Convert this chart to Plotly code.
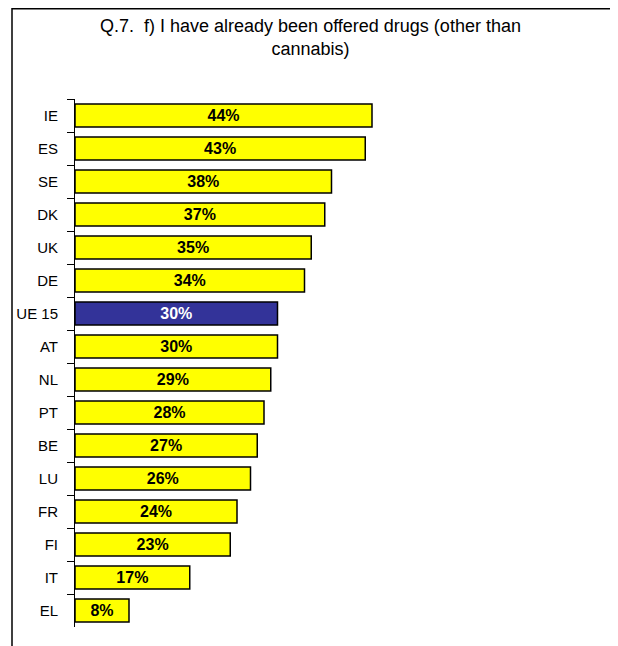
import plotly.graph_objects as go

countries = ["IE", "ES", "SE", "DK", "UK", "DE", "UE 15", "AT", "NL", "PT", "BE", "LU", "FR", "FI", "IT", "EL"]
values = [44, 43, 38, 37, 35, 34, 30, 30, 29, 28, 27, 26, 24, 23, 17, 8]
highlight = "UE 15"

colors = ["#333399" if c == highlight else "#FFFF00" for c in countries]
text_colors = ["#FFFFFF" if c == highlight else "#000000" for c in countries]
labels = [f"{v}%" for v in values]

W, H = 618, 646
L, R, T, B = 67, 11, 91, 27
pw, ph = W - L - R, H - T - B

fig = go.Figure(go.Bar(
    y=countries, x=values, orientation="h",
    marker=dict(color=colors, line=dict(color="#000000", width=1.5)),
    width=0.7,
    text=labels, textposition="inside", insidetextanchor="middle",
    textfont=dict(family="Arial, Liberation Sans, sans-serif", size=16, color=text_colors, weight="bold"),
    textangle=0,
    hoverinfo="skip",
))

def px_x(x):
    return (x - L) / pw

def px_y(y):
    return (H - B - y) / ph

fig.add_shape(type="path", xref="paper", yref="paper",
              path=f"M {px_x(4)} {px_y(660)} L {px_x(4)} {px_y(0.8)} L {px_x(606)} {px_y(0.8)} L {px_x(606)} {px_y(660)}",
              line=dict(color="#000000", width=1.5))

fig.add_annotation(text="Q.7.  f) I have already been offered drugs (other than<br>cannabis)",
                   xref="paper", yref="paper", x=px_x(302), y=px_y(6), xanchor="center", yanchor="top",
                   showarrow=False, align="center",
                   font=dict(family="Arial, Liberation Sans, sans-serif", size=18, color="#000000"))

fig.update_layout(
    width=W, height=H,
    margin=dict(l=L, r=R, t=T, b=B, autoexpand=False),
    paper_bgcolor="white", plot_bgcolor="white",
    showlegend=False,
    xaxis=dict(range=[0, 80], visible=False, fixedrange=True, automargin=False),
    yaxis=dict(categoryorder="array", categoryarray=countries, autorange="reversed",
               automargin=False,
               showline=True, linecolor="#000000", linewidth=1,
               ticks="outside", ticklen=7, tickcolor="#000000", tickson="boundaries",
               showgrid=False, zeroline=False, ticklabelstandoff=13,
               tickfont=dict(family="Arial, Liberation Sans, sans-serif", size=15, color="#000000"),
               fixedrange=True),
    bargap=0.3,
)

fig.write_html("out.html")
